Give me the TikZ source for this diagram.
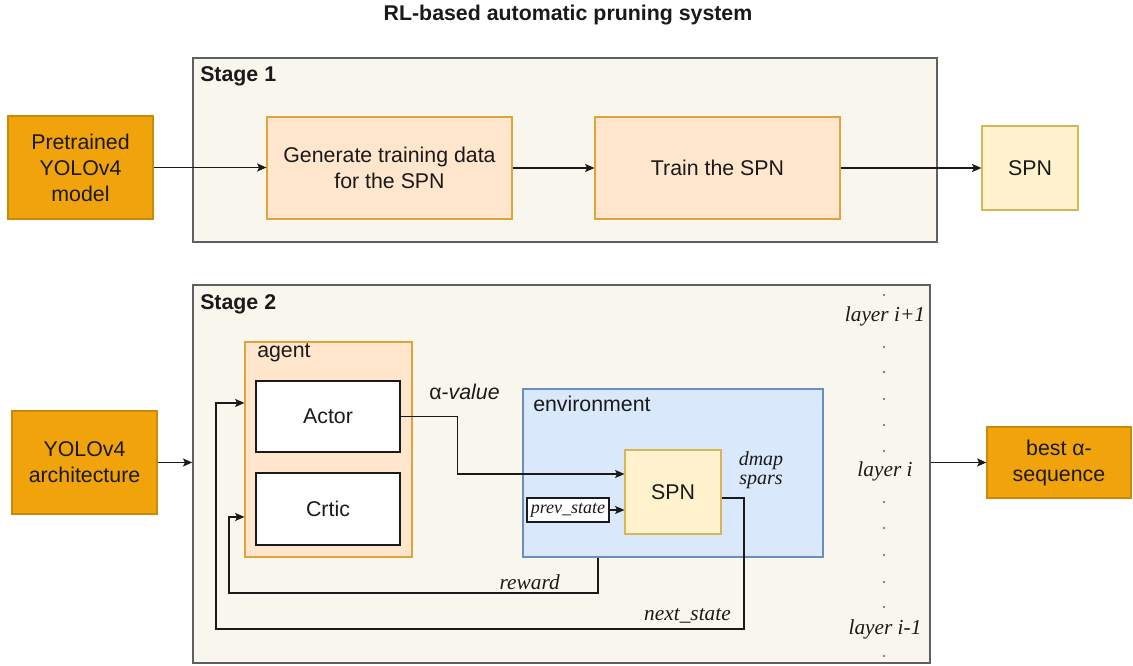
\documentclass[tikz,border=0pt]{standalone}
\usepackage{fontspec}
\setmainfont{Liberation Sans}
\newfontfamily\serifit{Liberation Serif}
\usetikzlibrary{arrows.meta}
\definecolor{stagefill}{HTML}{F9F7ED}
\definecolor{stageline}{HTML}{5F5F5F}
\definecolor{darkor}{HTML}{F0A30A}
\definecolor{darkorline}{HTML}{C98A08}
\definecolor{lightor}{HTML}{FFE6CC}
\definecolor{lightorline}{HTML}{E0A33A}
\definecolor{pale}{HTML}{FFF2CC}
\definecolor{paleline}{HTML}{D6B656}
\definecolor{envfill}{HTML}{DAE8FC}
\definecolor{envline}{HTML}{6C8EBF}
\definecolor{ink}{HTML}{1A1A1A}
\begin{document}
\begin{tikzpicture}[x=0.75pt,y=-0.75pt,
  font=\fontsize{16pt}{19.5pt}\selectfont,
  every node/.style={text=ink},
  stage/.style={draw=stageline,fill=stagefill,line width=1.1pt,inner sep=0pt},
  input/.style={draw=darkorline,fill=darkor,line width=0.8pt,align=center,inner sep=0pt},
  task/.style={draw=lightorline,fill=lightor,line width=0.8pt,align=center,inner sep=0pt},
  result/.style={draw=paleline,fill=pale,line width=0.8pt,align=center,inner sep=0pt},
  envbox/.style={draw=envline,fill=envfill,line width=0.8pt,inner sep=0pt},
  plain/.style={draw=ink,fill=white,line width=0.9pt,align=center,inner sep=0pt},
  heading/.style={font=\fontsize{16pt}{19.5pt}\selectfont\bfseries,anchor=west,inner sep=0pt},
  lbl/.style={font=\fontsize{16pt}{19.5pt}\selectfont\serifit\itshape,inner sep=0pt},
  arr/.style={draw=ink,line width=1pt,-{Stealth[length=7pt,width=6pt,inset=1.5pt]}},
  dot/.style={circle,fill=ink!70,inner sep=0pt,minimum size=1.6pt}]
\useasboundingbox (0,0) rectangle (1133,666);

% title
\node[font=\fontsize{16pt}{19.5pt}\selectfont\bfseries,inner sep=0pt] (title) at (568,15) {RL-based automatic pruning system};

% ---------- stage 1 ----------
\node[stage,minimum width=558pt,minimum height=138pt] (s1) at (565,150) {};
\node[heading] (s1t) at (200,76) {Stage 1};
\node[input,minimum width=108.75pt,minimum height=77.25pt] (pre) at (80.5,167.5) {Pretrained\\YOLOv4\\model};
\node[task,minimum width=183.75pt,minimum height=76.5pt] (gen) at (389.5,168) {Generate training data\\for the SPN};
\node[task,minimum width=183.75pt,minimum height=76.5pt] (train) at (717.5,168) {Train the SPN};
\node[result,minimum width=72pt,minimum height=63pt] (spn1) at (1030,168) {SPN};
\draw[arr] (pre.east) -- (pre.east -| gen.west);
\draw[arr] (gen.east) -- (train.west);
\draw[arr] (train.east) -- (spn1.west);

% ---------- stage 2 ----------
\node[stage,minimum width=552.75pt,minimum height=283.5pt] (s2) at (561.5,474) {};
\node[heading] (s2t) at (200,304) {Stage 2};
\node[input,minimum width=108.75pt,minimum height=77.25pt] (arch) at (84.5,462.5) {YOLOv4\\architecture};
\node[input,minimum width=108pt,minimum height=53.25pt] (best) at (1059,462.5) {best α-\\sequence};
\draw[arr] (arch.east) -- (arch.east -| s2.west);
\draw[arr] (s2.east |- best.west) -- (best.west);

% agent
\node[task,minimum width=125.25pt,minimum height=161.25pt] (agent) at (328.5,449.5) {};
\node[anchor=west,inner sep=0pt] (agentt) at (257,353) {agent};
\node[plain,minimum width=108pt,minimum height=53.25pt] (actor) at (328,416.5) {Actor};
\node[plain,minimum width=108pt,minimum height=54pt] (critic) at (328,509) {Crtic};

% environment
\node[envbox,minimum width=225pt,minimum height=126pt] (env) at (673,473) {};
\node[anchor=west,inner sep=0pt] (envt) at (533,404) {environment};
\node[result,minimum width=72pt,minimum height=63pt] (spn2) at (673,492) {SPN};
\node[plain,minimum width=61.5pt,minimum height=18pt,font=\fontsize{13.5pt}{16pt}\selectfont\serifit\itshape] (prev) at (568,510) {prev\_state};
\node[lbl,font=\fontsize{15pt}{15pt}\selectfont\serifit\itshape,anchor=base] (dm1) at (761,466) {dmap};
\node[lbl,font=\fontsize{15pt}{15pt}\selectfont\serifit\itshape,anchor=base] (dm2) at (761,485) {spars};

% actions and feedback
\node[inner sep=0pt,anchor=west] (alpha) at (429,392) {α-\textit{value}};
\draw[arr] (actor.east) -- ++(57,0) |- ([yshift=13.5pt]spn2.west);
\draw[arr] (prev.east) -- (prev.east -| spn2.west);

\coordinate (rw1) at (598,593);
\coordinate (rw2) at (229,593);
\draw[arr] (rw1 |- env.south) -- (rw1) -- (rw2) |- ([yshift=-50.6pt]agent.west);
\node[lbl,anchor=south east] (rwt) at (560,590) {reward};

\coordinate (ns1) at (744,629);
\coordinate (ns2) at (216,629);
\draw[arr] ([yshift=-4.5pt]spn2.east) -| (ns1) -- (ns2) |- ([yshift=34.9pt]agent.west);
\node[lbl,anchor=south east] (nst) at (731,624) {next\_state};

% layer scale
\node[lbl] (li1) at (885,316) {layer i+1};
\node[lbl] (li) at (885,471) {layer i};
\node[lbl] (lim) at (885,629) {layer i-1};
\foreach \yy in {295,347,372,399,425,451,502,528,555,582,607,656}
  \node[dot] at (884,\yy) {};
\end{tikzpicture}
\end{document}
